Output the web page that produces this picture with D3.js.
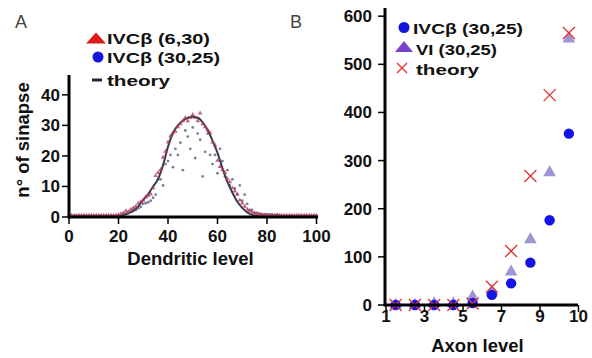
<!DOCTYPE html>
<html><head><meta charset="utf-8">
<script src="https://cdn.jsdelivr.net/npm/d3@7"></script>
<style>body{margin:0;background:#fff}svg{display:block}text{font-family:"Liberation Sans",Arial,sans-serif}</style>
</head><body><svg id="c" width="592" height="358"></svg>
<script>
// ---------- Panel A data ----------
const dendriticLevels = d3.range(0, 101);
const ivc630 = [0,0,0,0,0,0,0,0,0,0,0,0,0,0,0,0,0,0,0,0,
  0.3,0.5,0.8,1.5,1.2,2,2.5,3,4,4.5,5,6,6.5,7,9,13,14,15,19,21,24,26,27,27.5,29,30,31,32,31,32,33,32,31,33.5,30,29,28,27,24,23,18,16,15,14,12,11,9,8,7,5,4,3,2,1.5,1,0.8,0.5,0.4,0.3,0.2,0.1,
  0,0,0,0,0,0,0,0,0,0,0,0,0,0,0,0,0,0,0,0];
const ivc3025A = [0,0,0,0,0,0,0,0,0,0,0,0,0,0,0,0,0,0,0,0,0,0,
  0.5,0.7,1,1.4,1.8,2,2.5,3,4,4.2,4.5,5,6,7,12,12,10,17,18,20,16,22,20,24,15,28,26,22,29,19,27,25,13,21,27,20,17,20,14,22,18,13,15,10,12,9,7,10,5,7,4,2,2,1,1,0.8,0.5,0.5,0.5,0.5,0.5,0.3,0.5,0.2,
  0,0,0,0,0,0,0,0,0,0,0,0,0,0,0];
const theoryAX = [0,10,18,20,22,24,26,28,30,32,34,36,38,40,42,44,46,48,50,52,54,56,58,60,62,64,66,68,70,72,74,76,78,80,90,100];
const theoryAY = [0,0,0.1,0.2,0.6,1.2,2,3.5,5.6,7.5,10,12.5,17,23,27.5,30,31.5,32.5,32.8,32.5,31,28.5,25,21,16,11.5,8,5,3,1.5,0.7,0.3,0.1,0,0,0];
const ticksAX = [0,20,40,60,80,100];
const ticksAY = [0,10,20,30,40];

// ---------- Panel B data ----------
const axonPos = [1.5,2.5,3.5,4.5,5.5,6.5,7.5,8.5,9.5,10.5];
const ivc3025B = [0,0,0,0,4,21,45,88,176,356];
const vi3025 = [0,0,3,3,17,28,69,136,275,553];
const theoryB = [0,0,0,0,3,38,112,268,436,565];
const ticksBX = [1,3,5,7,9,11];
const tickLabelsBX = ["1","3","5","7","9","10"];
const ticksBY = [0,100,200,300,400,500,600];

const svg = d3.select("#c");

// ================= Panel A =================
const xA = d3.scaleLinear().domain([0,100]).range([69,316.5]);
const yA = d3.scaleLinear().domain([0,46.5]).range([217,75]);

// blue-grey dots
svg.append("g").selectAll("circle").data(dendriticLevels).join("circle")
  .attr("cx",d=>xA(d)).attr("cy",(d,i)=>yA(ivc3025A[i])-1)
  .attr("r",1.4).attr("fill","#66668a").attr("opacity",0.85);

// theory line
svg.append("path")
  .datum(theoryAX.map((x,i)=>[x,theoryAY[i]]))
  .attr("fill","none").attr("stroke","#383850").attr("stroke-width",2)
  .attr("d", d3.line().x(d=>xA(d[0])).y(d=>yA(d[1])).curve(d3.curveMonotoneX));

// red dots (tiny triangles)
const triSmall = d3.symbol().type(d3.symbolTriangle).size(9);
svg.append("g").selectAll("path").data(dendriticLevels).join("path")
  .attr("transform",(d,i)=>`translate(${xA(d)},${yA(ivc630[i])-1.5})`)
  .attr("d",triSmall).attr("fill","#b03c5c").attr("opacity",0.8);

// axes A
const axA = svg.append("g").attr("font-weight","bold");
axA.append("line").attr("x1",xA(0)).attr("x2",318).attr("y1",yA(0)).attr("y2",yA(0)).attr("stroke","#000").attr("stroke-width",3);
axA.append("line").attr("x1",xA(0)).attr("x2",xA(0)).attr("y1",75).attr("y2",yA(0)+1.5).attr("stroke","#000").attr("stroke-width",3);
ticksAY.forEach(v=>{
  axA.append("line").attr("x1",62).attr("x2",xA(0)).attr("y1",yA(v)).attr("y2",yA(v)).attr("stroke","#000").attr("stroke-width",1.5);
  axA.append("text").attr("x",60).attr("y",yA(v)+6).attr("text-anchor","end").attr("font-size",17).attr("fill","#111").text(v);
});
ticksAX.forEach(v=>{
  axA.append("line").attr("x1",xA(v)).attr("x2",xA(v)).attr("y1",yA(0)).attr("y2",224).attr("stroke","#000").attr("stroke-width",1.5);
  axA.append("text").attr("x",xA(v)).attr("y",242).attr("text-anchor","middle").attr("font-size",17).attr("fill","#111").text(v);
});
axA.append("text").attr("x",190.5).attr("y",265).attr("text-anchor","middle").attr("font-size",18.5).attr("fill","#111").text("Dendritic level");
axA.append("text").attr("transform","translate(29,140) rotate(-90)").attr("text-anchor","middle").attr("font-size",18.5).attr("fill","#111").text("n° of sinapse");

// legend A
const lgA = svg.append("g").attr("font-weight","bold").attr("font-size",15).attr("fill","#111");
lgA.append("path").attr("transform","translate(96,38.5)").attr("d","M-10,5 L0,-6 L10,5 Z").attr("fill","#e01818");
lgA.append("text").attr("x",107).attr("y",43.5).attr("textLength",103).attr("lengthAdjust","spacingAndGlyphs").text("IVCβ (6,30)");
lgA.append("circle").attr("cx",98).attr("cy",57).attr("r",5.5).attr("fill","#1515e0");
lgA.append("text").attr("x",107).attr("y",63).attr("textLength",113).attr("lengthAdjust","spacingAndGlyphs").text("IVCβ (30,25)");
lgA.append("line").attr("x1",92).attr("x2",102).attr("y1",80).attr("y2",80).attr("stroke","#222238").attr("stroke-width",3);
lgA.append("text").attr("x",107).attr("y",86).attr("textLength",63).attr("lengthAdjust","spacingAndGlyphs").text("theory");

svg.append("text").attr("x",15).attr("y",28).attr("font-size",18).attr("fill","#444").text("A");

// ================= Panel B =================
const xB = d3.scaleLinear().domain([1,11]).range([386,578.5]);
const yB = d3.scaleLinear().domain([0,617]).range([305,8]);

const tri = d3.symbol().type(d3.symbolTriangle).size(70);
svg.append("g").selectAll("path").data(axonPos).join("path")
  .attr("transform",(d,i)=>`translate(${xB(d)},${yB(vi3025[i])})`)
  .attr("d",tri).attr("fill","#8c84cc").attr("opacity",0.85);
svg.append("g").selectAll("circle").data(axonPos).join("circle")
  .attr("cx",d=>xB(d)).attr("cy",(d,i)=>yB(ivc3025B[i]))
  .attr("r",5.2).attr("fill","#1414e6");
const cross = svg.append("g").attr("stroke","#e03838").attr("stroke-width",1.4).attr("fill","none");
axonPos.forEach((d,i)=>{
  const cx=xB(d), cy=yB(theoryB[i]), s=6;
  cross.append("path").attr("d",`M${cx-s},${cy-s}L${cx+s},${cy+s}M${cx-s},${cy+s}L${cx+s},${cy-s}`);
});

const axB = svg.append("g").attr("font-weight","bold");
axB.append("line").attr("x1",xB(1)-1).attr("x2",578).attr("y1",yB(0)).attr("y2",yB(0)).attr("stroke","#000").attr("stroke-width",3);
axB.append("line").attr("x1",xB(1)-1).attr("x2",xB(1)-1).attr("y1",8).attr("y2",yB(0)+1.5).attr("stroke","#000").attr("stroke-width",3);
ticksBY.forEach(v=>{
  axB.append("line").attr("x1",378).attr("x2",xB(1)).attr("y1",yB(v)).attr("y2",yB(v)).attr("stroke","#000").attr("stroke-width",1.5);
  axB.append("text").attr("x",372).attr("y",yB(v)+6).attr("text-anchor","end").attr("font-size",17).attr("fill","#111").text(v);
});
ticksBX.forEach((v,i)=>{
  axB.append("line").attr("x1",xB(v)).attr("x2",xB(v)).attr("y1",yB(0)).attr("y2",312).attr("stroke","#000").attr("stroke-width",1.5);
  axB.append("text").attr("x",xB(v)).attr("y",322).attr("text-anchor","middle").attr("font-size",17).attr("fill","#111").text(tickLabelsBX[i]);
});
axB.append("text").attr("x",477.5).attr("y",352).attr("text-anchor","middle").attr("font-size",18.5).attr("fill","#111").text("Axon level");

const lgB = svg.append("g").attr("font-weight","bold").attr("font-size",15).attr("fill","#111");
lgB.append("circle").attr("cx",404).attr("cy",27.5).attr("r",5.5).attr("fill","#1515e0");
lgB.append("text").attr("x",413).attr("y",33.5).attr("textLength",110).attr("lengthAdjust","spacingAndGlyphs").text("IVCβ (30,25)");
lgB.append("path").attr("transform","translate(404,47)").attr("d","M-9,5 L0,-6 L9,5 Z").attr("fill","#7a40d0");
lgB.append("text").attr("x",416).attr("y",54.5).attr("textLength",81).attr("lengthAdjust","spacingAndGlyphs").text("VI (30,25)");
lgB.append("path").attr("d","M397,63L407,73M397,73L407,63").attr("stroke","#e03838").attr("stroke-width",1.4);
lgB.append("text").attr("x",416).attr("y",75).attr("textLength",63).attr("lengthAdjust","spacingAndGlyphs").text("theory");

svg.append("text").attr("x",290).attr("y",28).attr("font-size",18).attr("fill","#444").text("B");
</script></body></html>
